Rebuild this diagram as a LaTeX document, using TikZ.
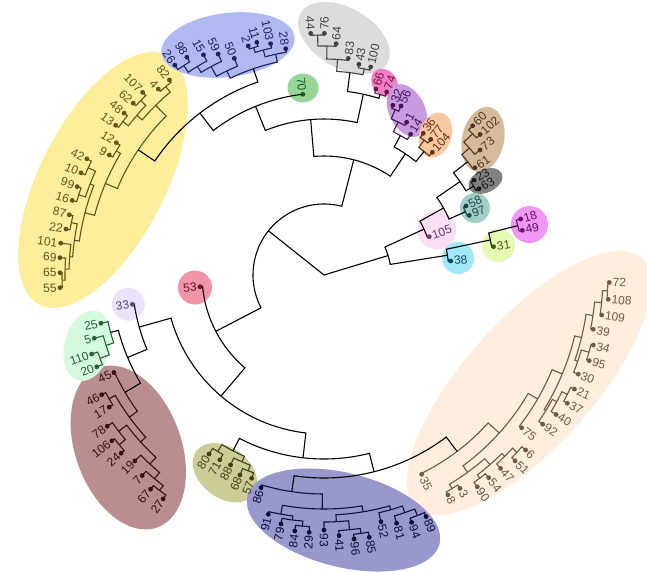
\documentclass[tikz,border=0pt]{standalone}
\usepackage{fontspec}
\setmainfont{Liberation Sans}
\pgfdeclarelayer{bg}
\pgfdeclarelayer{lines}
\pgfsetlayers{bg,lines,main}
% fills
\definecolor{fye}{RGB}{253,238,155}
\definecolor{fbl}{RGB}{176,186,240}
\definecolor{f70}{RGB}{152,214,152}
\definecolor{fgy}{RGB}{220,220,220}
\definecolor{fpk}{RGB}{248,125,200}
\definecolor{fpu}{RGB}{200,155,225}
\definecolor{fora}{RGB}{250,200,160}
\definecolor{ftan}{RGB}{214,186,156}
\definecolor{fdg}{RGB}{130,130,130}
\definecolor{fte}{RGB}{162,205,200}
\definecolor{f105}{RGB}{252,222,245}
\definecolor{fcy}{RGB}{160,232,250}
\definecolor{fli}{RGB}{230,250,180}
\definecolor{fmg}{RGB}{240,150,245}
\definecolor{fpe}{RGB}{255,238,222}
\definecolor{fnv}{RGB}{152,152,204}
\definecolor{fol}{RGB}{204,204,150}
\definecolor{fbr}{RGB}{186,142,142}
\definecolor{fgr}{RGB}{214,250,222}
\definecolor{flv}{RGB}{236,226,252}
\definecolor{frd}{RGB}{240,148,168}
% inks
\definecolor{cye}{RGB}{95,85,25}
\definecolor{cbl}{RGB}{30,35,85}
\definecolor{cgy}{RGB}{65,65,65}
\definecolor{c70}{RGB}{25,90,35}
\definecolor{cpk}{RGB}{110,20,60}
\definecolor{cpu}{RGB}{70,20,85}
\definecolor{cor}{RGB}{95,50,20}
\definecolor{ctan}{RGB}{80,55,35}
\definecolor{cdg}{RGB}{25,25,25}
\definecolor{cte}{RGB}{25,70,70}
\definecolor{c105}{RGB}{100,60,100}
\definecolor{ccy}{RGB}{20,75,95}
\definecolor{cli}{RGB}{60,95,20}
\definecolor{cmg}{RGB}{95,20,95}
\definecolor{cpe}{RGB}{105,90,75}
\definecolor{cnv}{RGB}{15,15,60}
\definecolor{col}{RGB}{65,65,25}
\definecolor{cbr}{RGB}{60,15,15}
\definecolor{cgr}{RGB}{40,95,55}
\definecolor{clv}{RGB}{85,75,115}
\definecolor{crd}{RGB}{110,20,45}
\tikzset{
  lbl/.style={font=\fontsize{12}{14}\selectfont, inner sep=0.6pt},
  branch/.style={line width=1.1pt}
}
\newcommand\dgblob[6]{\fill[#1,shift={(#2,#3)},rotate=#6] (0,0) ellipse[x radius=#4,y radius=#5];}
\newcommand\dgtip[4]{%
  \expandafter\xdef\csname dgA:#1\endcsname{#2}%
  \expandafter\xdef\csname dgR:#1\endcsname{#3}%
  \fill[#4] (#2:#3) circle[radius=2.4];
  \pgfmathsetmacro\dgLr{#3+2.6}%
  \pgfmathtruncatemacro\dgFl{and(#2>90,#2<270)}%
  \ifnum\dgFl=1
    \pgfmathsetmacro\dgRot{#2-180}%
    \node[lbl,text=#4,anchor=east,rotate=\dgRot] (t#1) at (#2:\dgLr) {#1};%
  \else
    \node[lbl,text=#4,anchor=west,rotate=#2] (t#1) at (#2:\dgLr) {#1};%
  \fi
}
\newcommand\dgclade[5]{%
  \pgfmathsetmacro\dgCa{\csname dgA:#2\endcsname}%
  \pgfmathsetmacro\dgCb{\csname dgA:#3\endcsname}%
  \pgfmathsetmacro\dgRa{\csname dgR:#2\endcsname}%
  \pgfmathsetmacro\dgRb{\csname dgR:#3\endcsname}%
  \pgfmathsetmacro\dgM{(\dgCa+\dgCb)/2}%
  \expandafter\xdef\csname dgA:#1\endcsname{\dgM}%
  \expandafter\xdef\csname dgR:#1\endcsname{#4}%
  \begin{pgfonlayer}{lines}
  \draw[branch,#5] (\dgCa:\dgRa) -- (\dgCa:#4) arc[start angle=\dgCa, end angle=\dgCb, radius=#4] -- (\dgCb:\dgRb);
  \end{pgfonlayer}%
}
\begin{document}
\begin{tikzpicture}[x=1pt,y=1pt]
\useasboundingbox (-324,-296) rectangle (323,275);
\begin{pgfonlayer}{bg}
\dgblob{fye}{-221}{95}{140}{63}{63}
\dgblob{fbl}{-96}{230}{67}{32}{7}
\dgblob{f70}{-21}{187}{15.5}{14.5}{0}
\dgblob{fgy}{20}{237}{50}{30}{-30}
\dgblob{fpk}{60.5}{192.5}{15}{12}{-50}
\dgblob{fpu}{83}{164.5}{28}{18}{-64}
\dgblob{fora}{111.5}{140}{23}{16}{73}
\dgblob{ftan}{159}{135.5}{33}{21}{78}
\dgblob{fdg}{161.5}{94}{18}{11.5}{25}
\dgblob{fte}{151}{67}{15}{15}{0}
\dgblob{f105}{112.7}{45}{19.5}{19.5}{0}
\dgblob{fcy}{134}{17}{16}{16}{0}
\dgblob{fli}{174.5}{29.5}{16.5}{16.5}{0}
\dgblob{fmg}{205.5}{50.5}{18.5}{18.5}{0}
\dgblob{fpe}{205}{-108}{168}{64}{48}
\dgblob{fol}{-99}{-197.7}{36}{25}{-38}
\dgblob{fnv}{19.5}{-245}{99}{47}{-14}
\dgblob{fbr}{-195.7}{-172.5}{85}{53}{-70}
\dgblob{fgr}{-236.5}{-70.7}{36}{23}{75}
\dgblob{flv}{-195.7}{-29.2}{16.5}{16.5}{0}
\dgblob{frd}{-129}{-12.5}{17}{17}{0}
\end{pgfonlayer}
% ---- tips ----
\dgtip{38}{6.3}{127.5}{ccy}
\dgtip{31}{9.5}{172}{cli}
\dgtip{49}{12.7}{203.3}{cmg}
\dgtip{18}{15.9}{204.5}{cmg}
\dgtip{105}{20.0}{112}{c105}
\dgtip{97}{22.3}{157.1}{cte}
\dgtip{58}{25.9}{157.9}{cte}
\dgtip{63}{29.1}{177.4}{cdg}
\dgtip{23}{32.3}{177.6}{cdg}
\dgtip{61}{35.4}{185.2}{ctan}
\dgtip{73}{38.7}{199.9}{ctan}
\dgtip{102}{42.0}{210.1}{ctan}
\dgtip{60}{45.1}{210.7}{ctan}
\dgtip{104}{48.56}{163.7}{cor}
\dgtip{77}{51.8}{172.6}{cor}
\dgtip{36}{54.98}{173}{cor}
\dgtip{14}{58.4}{165.3}{cpu}
\dgtip{1}{61.6}{173.7}{cpu}
\dgtip{56}{65.5}{185.7}{cpu}
\dgtip{32}{67.9}{183.2}{cpu}
\dgtip{74}{71.1}{193.4}{cpk}
\dgtip{66}{74.4}{193.1}{cpk}
\dgtip{100}{77.35}{213.2}{cgy}
\dgtip{43}{80.6}{213.6}{cgy}
\dgtip{83}{83.6}{218}{cgy}
\dgtip{64}{87.0}{231.6}{cgy}
\dgtip{76}{89.9}{241.7}{cgy}
\dgtip{44}{93.15}{242}{cgy}
\dgtip{70}{96.7}{182}{c70}
\dgtip{28}{99.6}{229.5}{cbl}
\dgtip{103}{103.0}{237.4}{cbl}
\dgtip{11}{106.1}{242.2}{cbl}
\dgtip{2}{108.3}{241.2}{cbl}
\dgtip{50}{112.5}{234.5}{cbl}
\dgtip{59}{115.6}{245}{cbl}
\dgtip{15}{118.7}{251}{cbl}
\dgtip{98}{122.2}{257.4}{cbl}
\dgtip{26}{125.4}{257.5}{cbl}
\dgtip{82}{128.4}{248.9}{cye}
\dgtip{4}{131.7}{249.1}{cye}
\dgtip{107}{134.8}{257.4}{cye}
\dgtip{62}{138.0}{256.7}{cye}
\dgtip{48}{141.0}{257.2}{cye}
\dgtip{13}{144.3}{256.6}{cye}
\dgtip{12}{147.5}{246.3}{cye}
\dgtip{9}{150.8}{246}{cye}
\dgtip{42}{153.9}{264.1}{cye}
\dgtip{10}{157.2}{263.6}{cye}
\dgtip{99}{160.3}{262.2}{cye}
\dgtip{16}{163.5}{262.6}{cye}
\dgtip{87}{166.7}{261.7}{cye}
\dgtip{22}{169.9}{262.1}{cye}
\dgtip{101}{173.1}{265.2}{cye}
\dgtip{69}{176.25}{264.6}{cye}
\dgtip{65}{179.5}{264}{cye}
\dgtip{55}{182.75}{264.3}{cye}
\dgtip{53}{185.4}{124.6}{crd}
\dgtip{33}{188.7}{193.9}{clv}
\dgtip{25}{192.2}{228.2}{cgr}
\dgtip{5}{195.4}{238.3}{cgr}
\dgtip{110}{198.8}{245.4}{cgr}
\dgtip{20}{202.0}{245.1}{cgr}
\dgtip{45}{204.9}{231.6}{cbr}
\dgtip{46}{208.3}{252.5}{cbr}
\dgtip{17}{211.6}{252.2}{cbr}
\dgtip{78}{214.9}{264.3}{cbr}
\dgtip{106}{218.0}{269.3}{cbr}
\dgtip{24}{221.3}{270}{cbr}
\dgtip{19}{224.5}{265.2}{cbr}
\dgtip{7}{227.8}{270.7}{cbr}
\dgtip{67}{231.0}{275.6}{cbr}
\dgtip{27}{234.3}{275.7}{cbr}
\dgtip{80}{237.3}{212.8}{col}
\dgtip{71}{240.6}{212.2}{col}
\dgtip{88}{243.8}{211.7}{col}
\dgtip{68}{247.2}{216.9}{col}
\dgtip{57}{250.4}{215.8}{col}
\dgtip{86}{253.5}{221.8}{cnv}
\dgtip{91}{256.9}{245.7}{cnv}
\dgtip{79}{260.2}{252.7}{cnv}
\dgtip{84}{263.5}{257.6}{cnv}
\dgtip{29}{266.7}{257.7}{cnv}
\dgtip{93}{270.0}{255}{cnv}
\dgtip{41}{273.3}{261.1}{cnv}
\dgtip{96}{276.5}{265.7}{cnv}
\dgtip{85}{279.8}{266.2}{cnv}
\dgtip{52}{283.0}{253.2}{cnv}
\dgtip{81}{286.3}{258.7}{cnv}
\dgtip{94}{289.5}{262.4}{cnv}
\dgtip{89}{292.9}{262.3}{cnv}
\dgtip{35}{296.1}{222}{cpe}
\dgtip{8}{299.4}{252.4}{cpe}
\dgtip{3}{302.5}{253}{cpe}
\dgtip{90}{305.9}{261.4}{cpe}
\dgtip{54}{309.1}{261.2}{cpe}
\dgtip{47}{312.4}{261.9}{cpe}
\dgtip{51}{315.8}{266.6}{cpe}
\dgtip{6}{319.04}{267}{cpe}
\dgtip{75}{322.3}{249.8}{cpe}
\dgtip{92}{325.7}{264.8}{cpe}
\dgtip{40}{329.0}{270.8}{cpe}
\dgtip{37}{332.2}{275.1}{cpe}
\dgtip{21}{335.5}{275.2}{cpe}
\dgtip{30}{338.7}{272.9}{cpe}
\dgtip{95}{342.1}{278.8}{cpe}
\dgtip{34}{345.4}{278.3}{cpe}
\dgtip{39}{348.6}{274.7}{cpe}
\dgtip{109}{351.8}{280.6}{cpe}
\dgtip{108}{355.1}{285.3}{cpe}
\dgtip{72}{358.5}{285.4}{cpe}
% ---- clades: right part ----
\dgclade{L3}{49}{18}{200}{cmg}
\dgclade{L2}{31}{L3}{170}{black}
\dgclade{L1}{38}{L2}{125}{black}
\dgclade{T1}{102}{60}{205}{ctan}
\dgclade{T2}{73}{T1}{193}{ctan}
\dgclade{T3}{61}{T2}{183}{ctan}
\dgclade{P23}{63}{23}{174}{cdg}
\dgclade{U3}{P23}{T3}{165}{black}
\dgclade{P58}{97}{58}{155}{cte}
\dgclade{U2}{P58}{U3}{137}{black}
\dgclade{U}{105}{U2}{110}{black}
\dgclade{R}{L1}{U}{67}{black}
% ---- upper part ----
\dgclade{O1}{77}{36}{168}{cor}
\dgclade{O2}{104}{O1}{159}{cor}
\dgclade{PU1}{56}{32}{180}{cpu}
\dgclade{PU2}{1}{PU1}{170}{cpu}
\dgclade{PU3}{14}{PU2}{159}{cpu}
\dgclade{A1b}{O2}{PU3}{146}{black}
\dgclade{PK}{74}{66}{189}{cpk}
\dgclade{G1}{76}{44}{240}{cgy}
\dgclade{G2}{64}{G1}{229}{cgy}
\dgclade{G3}{83}{G2}{216}{cgy}
\dgclade{G4}{100}{43}{210}{cgy}
\dgclade{G5}{G4}{G3}{204}{cgy}
\dgclade{GP}{PK}{G5}{185}{black}
\dgclade{BL1}{98}{26}{252}{cbl}
\dgclade{BL2}{15}{BL1}{244}{cbl}
\dgclade{BL3}{59}{BL2}{237}{cbl}
\dgclade{BL4}{50}{BL3}{226}{cbl}
\dgclade{BR1}{2}{11}{238}{cbl}
\dgclade{BR2}{103}{BR1}{233}{cbl}
\dgclade{BR3}{28}{BR2}{226}{cbl}
\dgclade{BLU}{BR3}{BL4}{218}{cbl}
\dgclade{Y82}{4}{82}{246}{cye}
\dgclade{Y107}{62}{107}{253}{cye}
\dgclade{Y48}{13}{48}{253}{cye}
\dgclade{Y1}{Y48}{Y107}{246}{cye}
\dgclade{YT}{Y1}{Y82}{239}{cye}
\dgclade{Y12}{9}{12}{242}{cye}
\dgclade{Y42}{10}{42}{259}{cye}
\dgclade{Y99}{16}{99}{258}{cye}
\dgclade{YA}{Y99}{Y42}{251}{cye}
\dgclade{Y87}{22}{87}{258}{cye}
\dgclade{Y65}{55}{65}{262}{cye}
\dgclade{Y69}{Y65}{69}{259}{cye}
\dgclade{Y101}{Y69}{101}{255}{cye}
\dgclade{YB}{Y101}{Y87}{252}{cye}
\dgclade{YC}{YB}{YA}{247}{cye}
\dgclade{YD}{YC}{Y12}{237}{cye}
\dgclade{YR}{YD}{YT}{224}{cye}
\dgclade{LL2}{BLU}{YR}{204}{black}
\dgclade{LL}{70}{LL2}{182}{black}
\dgclade{A1a}{GP}{LL}{156}{black}
\dgclade{A1}{A1b}{A1a}{119}{black}
% ---- lower part ----
\dgclade{GR3}{110}{20}{239}{cgr}
\dgclade{GR2}{5}{GR3}{229}{cgr}
\dgclade{GR1}{25}{GR2}{221}{cgr}
\dgclade{BW1}{46}{17}{248}{cbr}
\dgclade{BW2}{106}{24}{266}{cbr}
\dgclade{BW3}{78}{BW2}{258}{cbr}
\dgclade{BW4}{67}{27}{271}{cbr}
\dgclade{BW5}{7}{BW4}{265}{cbr}
\dgclade{BW6}{19}{BW5}{257}{cbr}
\dgclade{BW7}{BW3}{BW6}{248}{cbr}
\dgclade{BW8}{BW1}{BW7}{241}{cbr}
\dgclade{BWR}{45}{BW8}{231}{cbr}
\dgclade{X2}{GR1}{BWR}{213}{black}
\dgclade{X}{33}{X2}{192}{black}
\dgclade{OL1}{80}{71}{206}{col}
\dgclade{OL2}{68}{57}{210}{col}
\dgclade{OL3}{88}{OL2}{204}{col}
\dgclade{OLR}{OL1}{OL3}{198}{col}
\dgclade{N84}{84}{29}{252}{cnv}
\dgclade{N79}{79}{N84}{247}{cnv}
\dgclade{N3}{91}{N79}{243}{cnv}
\dgclade{N96}{96}{85}{261}{cnv}
\dgclade{N41}{41}{N96}{256}{cnv}
\dgclade{N4a}{93}{N41}{247}{cnv}
\dgclade{N94}{94}{89}{258}{cnv}
\dgclade{N81}{81}{N94}{251}{cnv}
\dgclade{N4b}{52}{N81}{244}{cnv}
\dgclade{N4}{N4a}{N4b}{240}{cnv}
\dgclade{N2}{N3}{N4}{234}{cnv}
\dgclade{NV}{86}{N2}{219}{cnv}
\dgclade{PA1}{108}{72}{284}{cpe}
\dgclade{PA2}{109}{PA1}{279}{cpe}
\dgclade{PA3}{39}{PA2}{272}{cpe}
\dgclade{PB1}{95}{34}{276}{cpe}
\dgclade{PB2}{30}{PB1}{268}{cpe}
\dgclade{PAB}{PB2}{PA3}{265}{cpe}
\dgclade{PC1}{37}{21}{271}{cpe}
\dgclade{PC2}{40}{PC1}{265}{cpe}
\dgclade{PC3}{92}{PC2}{260}{cpe}
\dgclade{P4}{PC3}{PAB}{258}{cpe}
\dgclade{P3}{75}{P4}{247}{cpe}
\dgclade{PD1}{51}{6}{262}{cpe}
\dgclade{PD2}{47}{PD1}{256}{cpe}
\dgclade{PD3}{90}{54}{256}{cpe}
\dgclade{PD4}{PD3}{PD2}{252}{cpe}
\dgclade{PD5}{8}{3}{249}{cpe}
\dgclade{PD}{PD5}{PD4}{244}{cpe}
\dgclade{P2}{PD}{P3}{236}{cpe}
\dgclade{PR}{35}{P2}{221}{cpe}
\dgclade{Y2}{NV}{PR}{203}{black}
\dgclade{YY}{OLR}{Y2}{184}{black}
\dgclade{B2}{X}{YY}{159}{black}
\dgclade{B}{53}{B2}{122}{black}
\dgclade{A}{A1}{B}{71}{black}
% ---- root ----
\coordinate (root) at (0,0);
\pgfmathsetmacro\dgRootA{\csname dgA:A\endcsname}
\pgfmathsetmacro\dgRootR{\csname dgA:R\endcsname}
\begin{pgfonlayer}{lines}
\draw[branch] (\dgRootA:71) -- (root) -- (\dgRootR:67);
\end{pgfonlayer}
\end{tikzpicture}
\end{document}
